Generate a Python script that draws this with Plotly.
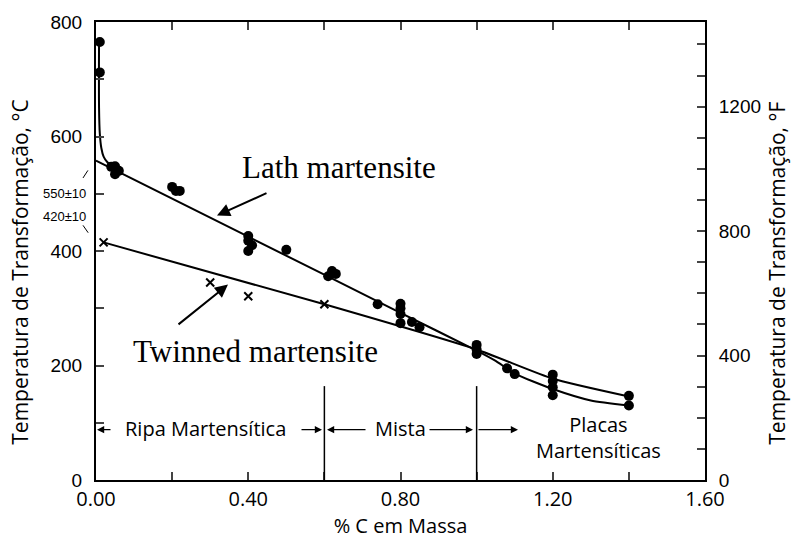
import plotly.graph_objects as go

# ---- data ----
lath_x = [0.01, 0.01, 0.04, 0.05, 0.06, 0.05, 0.20, 0.21, 0.22, 0.40, 0.40, 0.41, 0.40, 0.50,
          0.62, 0.63, 0.61, 0.74, 0.80, 0.80, 0.80, 0.80, 0.83, 0.85, 1.00, 1.00, 1.00,
          1.08, 1.10, 1.20, 1.20, 1.20, 1.20, 1.40, 1.40]
lath_y = [765, 712, 547, 548, 540, 534, 512, 505, 505, 426, 418, 410, 400, 402,
          365, 360, 356, 307, 308, 300, 290, 274, 276, 267, 236, 228, 220,
          195, 185, 184, 173, 162, 148, 147, 130]

twin_x = [0.02, 0.30, 0.40, 0.60]
twin_y = [415, 345, 321, 307]

# fitted curves as drawn in the figure
lath_fit_x = [0.00, 0.40, 0.80, 1.00, 1.05, 1.10, 1.20, 1.30, 1.40]
lath_fit_y = [558, 425, 292, 226, 208, 186, 159, 139, 130]
steep_x = [0.008, 0.008, 0.010, 0.014, 0.020, 0.030, 0.045]
steep_y = [772, 650, 605, 580, 565, 555, 546]
twin_fit_x = [0.02, 0.60, 1.00, 1.20, 1.40]
twin_fit_y = [415, 307, 228, 177, 146]

boundary_x = [0.60, 1.00]
boundary_top = 164

x_ticks = [0.0, 0.2, 0.4, 0.6, 0.8, 1.0, 1.2, 1.4, 1.6]
x_labels = ["0.00", "", "0.40", "", "0.80", "", "1.20", "", "1.60"]
yc_ticks = [0, 100, 200, 300, 400, 500, 600, 700, 800]
yc_labels = ["0", "", "200", "", "400", "", "600", "", "800"]
yf_ticks = list(range(0, 1500, 100))
yf_labels = [str(v) if v % 400 == 0 else "" for v in yf_ticks]

SANS = "Open Sans"
SERIF = "Liberation Serif, Times New Roman, serif"
TICKF = "Liberation Sans, Arial, sans-serif"

fig = go.Figure()
fig.add_trace(go.Scatter(x=lath_fit_x, y=lath_fit_y, mode="lines", line=dict(color="black", width=2, shape="spline", smoothing=0.6), showlegend=False))
fig.add_trace(go.Scatter(x=steep_x, y=steep_y, mode="lines", line=dict(color="black", width=2, shape="spline", smoothing=0.8), showlegend=False))
fig.add_trace(go.Scatter(x=twin_fit_x, y=twin_fit_y, mode="lines", line=dict(color="black", width=2, shape="spline", smoothing=0.5), showlegend=False))
fig.add_trace(go.Scatter(x=lath_x, y=lath_y, mode="markers", marker=dict(color="black", size=10, symbol="circle"), showlegend=False))
fig.add_trace(go.Scatter(x=twin_x, y=twin_y, mode="markers", marker=dict(color="black", size=8, symbol="x-thin", line=dict(color="black", width=2)), showlegend=False))
# invisible trace to activate right axis
fig.add_trace(go.Scatter(x=[0], y=[0], yaxis="y2", mode="markers", marker=dict(opacity=0), showlegend=False, hoverinfo="skip"))

def px(xp):
    return (xp - 96) / 609.0
def py(yp):
    return (480 - yp) / 464.0

shapes = []
for bx in boundary_x:
    shapes.append(dict(type="line", xref="x", yref="y", x0=bx, x1=bx, y0=0, y1=boundary_top, line=dict(color="black", width=1.5)))
# leader lines for intercept labels (paper coords)
shapes.append(dict(type="line", xref="paper", yref="paper", x0=px(83), y0=py(174), x1=px(92), y1=py(160), line=dict(color="black", width=1, dash="dash")))
shapes.append(dict(type="line", xref="paper", yref="paper", x0=px(83), y0=py(222), x1=px(92), y1=py(235), line=dict(color="black", width=1, dash="dash")))

def arrow(hx, hy, tx, ty, w=2, size=1.3):
    return dict(text="", x=px(hx), y=py(hy), ax=tx - hx, ay=ty - hy, xref="paper", yref="paper",
                axref="pixel", ayref="pixel", showarrow=True, arrowhead=2, arrowsize=size,
                arrowwidth=w, arrowcolor="black")

def label(text, xp, yp, family, size, angle=0):
    return dict(text=text, x=px(xp), y=py(yp), xref="paper", yref="paper", showarrow=False,
                xanchor="center", yanchor="middle", align="center", textangle=angle,
                font=dict(family=family, size=size, color="black"))

ann = []
ann.append(label("Lath martensite", 339, 163, SERIF, 31))
ann.append(label("Twinned martensite", 255, 350, SERIF, 31))
ann.append(arrow(217, 212, 268, 189))
ann.append(arrow(228, 282, 177, 323))
ann.append(label("550±10", 64, 190, TICKF, 13))
ann.append(label("420±10", 64, 213, TICKF, 13))

# region arrows
ry = 429
ann += [arrow(97, ry, 112, ry, 1.2, 1.2), arrow(322, ry, 300, ry, 1.2, 1.2), arrow(327, ry, 367, ry, 1.2, 1.2),
        arrow(473, ry, 428, ry, 1.2, 1.2), arrow(518, ry, 477, ry, 1.2, 1.2)]
ann.append(label("Ripa Martensítica", 205, 428, SANS, 20))
ann.append(label("Mista", 400, 428, SANS, 20))
ann.append(label("Placas<br>Martensíticas", 598, 437, SANS, 20))

# axis titles placed as rotated text
ann.append(label("Temperatura de Transformação, °C", 20, 270, SANS, 21, -90))
ann.append(label("Temperatura de Transformação, °F", 777, 271, SANS, 21, -90))

fig.update_layout(
    width=792, height=541,
    margin=dict(l=96, r=87, t=16, b=61),
    paper_bgcolor="white", plot_bgcolor="white",
    shapes=shapes, annotations=ann,
    xaxis=dict(range=[0, 1.6], tickvals=x_ticks, ticktext=x_labels, ticks="inside", ticklen=8, tickwidth=1.5,
               showline=True, linewidth=2, linecolor="black", mirror="ticks", showgrid=False, zeroline=False,
               tickfont=dict(family=SANS, size=20, color="black"),
               title=dict(text="% C em Massa", font=dict(family=SANS, size=20, color="black"), standoff=2)),
    yaxis=dict(range=[0, 800], tickvals=yc_ticks, ticktext=yc_labels, ticks="inside", ticklen=8, tickwidth=1.5,
               showline=True, linewidth=2, linecolor="black", showgrid=False, zeroline=False,
               tickfont=dict(family=TICKF, size=19, color="black"), ticklabelstandoff=8),
    yaxis2=dict(range=[0, 1472], overlaying="y", side="right", tickvals=yf_ticks, ticktext=yf_labels, ticks="inside", ticklen=8, tickwidth=1.5,
                showline=True, linewidth=2, linecolor="black", showgrid=False, zeroline=False,
                tickfont=dict(family=TICKF, size=19, color="black"), ticklabelstandoff=8),
)

fig.write_html("out.html")
